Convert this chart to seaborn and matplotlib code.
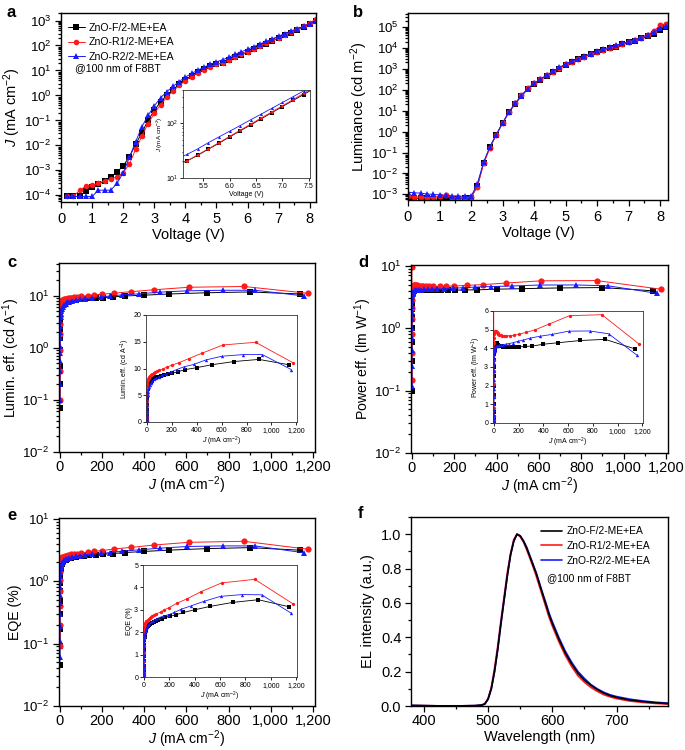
import numpy as np
import seaborn as sns
import matplotlib
matplotlib.use("Agg")
import matplotlib.pyplot as plt
from matplotlib.ticker import MultipleLocator, FuncFormatter, LogLocator, NullFormatter

sns.set_theme(style="ticks")
plt.rcParams['font.family'] = ['Liberation Sans', 'DejaVu Sans']
plt.rcParams['mathtext.fontset'] = 'custom'
plt.rcParams['mathtext.rm'] = 'Liberation Sans'
plt.rcParams['mathtext.it'] = 'Liberation Sans:italic'
plt.rcParams['mathtext.bf'] = 'Liberation Sans:bold'
for k in ['text.color', 'axes.labelcolor', 'xtick.color', 'ytick.color', 'axes.edgecolor']:
    plt.rcParams[k] = 'black'

labels = ['ZnO-F/2-ME+EA', 'ZnO-R1/2-ME+EA', 'ZnO-R2/2-ME+EA']
colors = ['#000000', '#ff1a1a', '#1a1aff']
markers = ['s', 'o', '^']

# ---- a: J-V ----
volt_a = [0.2, 0.4, 0.6, 0.8, 1.0, 1.2, 1.4, 1.6, 1.8, 2.0,
          2.2, 2.4, 2.6, 2.8, 3.0, 3.2, 3.4, 3.6, 3.8, 4.0,
          4.2, 4.4, 4.6, 4.8, 5.0, 5.2, 5.4, 5.6, 5.8, 6.0,
          6.2, 6.4, 6.6, 6.8, 7.0, 7.2, 7.4, 7.6, 7.8, 8.0, 8.2]
jv_f = [9e-5, 9e-5, 9e-5, 1.5e-4, 2.2e-4, 2.8e-4, 3.8e-4, 5.5e-4, 8.5e-4, 1.5e-3,
        3.5e-3, 1.1e-2, 3.2e-2, 0.1, 0.25, 0.55, 1.0, 1.7, 2.8, 4.3,
        6.2, 8.5, 11.2, 14.5, 17.5, 20.5, 26, 33.5, 43, 56,
        72, 93, 120, 155, 200, 258, 330, 430, 560, 720, 930]
jv_r1 = [9e-5, 9e-5, 1.6e-4, 2.3e-4, 2.5e-4, 3e-4, 3.8e-4, 4.5e-4, 5.5e-4, 8e-4,
         1.8e-3, 7e-3, 2.3e-2, 0.075, 0.19, 0.42, 0.85, 1.5, 2.5, 3.9,
         5.7, 8.0, 10.8, 14.0, 17.5, 20.5, 26.5, 34, 44, 57,
         74, 96, 124, 160, 207, 268, 348, 450, 600, 800, 1150]
jv_r2 = [9e-5, 9e-5, 9e-5, 9e-5, 9e-5, 1.6e-4, 1.6e-4, 1.6e-4, 3e-4, 8e-4,
         3.3e-3, 1.4e-2, 5.5e-2, 0.16, 0.38, 0.8, 1.4, 2.3, 3.6, 5.4,
         7.6, 10.3, 13.5, 17.5, 22, 27, 34, 44, 56, 71,
         90, 115, 146, 186, 237, 302, 385, 470, 580, 750, 1000]

# ---- b: L-V ----
volt_b = [0.0, 0.2, 0.4, 0.6, 0.8, 1.0, 1.2, 1.4, 1.6, 1.8,
          2.0, 2.2, 2.4, 2.6, 2.8, 3.0, 3.2, 3.4, 3.6, 3.8,
          4.0, 4.2, 4.4, 4.6, 4.8, 5.0, 5.2, 5.4, 5.6, 5.8,
          6.0, 6.2, 6.4, 6.6, 6.8, 7.0, 7.2, 7.4, 7.6, 7.8, 8.0, 8.2]
lum_f = [7e-4, 6.5e-4, 6.5e-4, 6.5e-4, 6e-4, 6e-4, 6e-4, 6e-4, 6e-4, 6.5e-4,
         7e-4, 2.5e-3, 3.2e-2, 0.18, 0.7, 2.5, 8.3, 21, 50, 108,
         195, 300, 470, 700, 1000, 1550, 2100, 2800, 3700, 4900,
         6300, 7800, 9500, 11500, 14500, 18000, 22000, 28000, 36000, 48000, 70000, 95000]
lum_r1 = [8e-4, 7.5e-4, 7.5e-4, 7e-4, 7.5e-4, 8e-4, 9e-4, 7e-4, 7e-4, 7e-4,
          7.5e-4, 2.2e-3, 3e-2, 0.17, 0.7, 2.5, 8.2, 22, 55, 115,
          200, 310, 480, 720, 1050, 1600, 2200, 2900, 3800, 5000,
          6500, 8000, 9800, 12000, 15000, 19000, 24000, 31000, 42000, 62000, 120000, 135000]
lum_r2 = [1.25e-3, 1.2e-3, 1.15e-3, 1.05e-3, 1.0e-3, 9.5e-4, 9e-4, 8.5e-4, 8.5e-4, 8e-4,
          8e-4, 3.2e-3, 3.5e-2, 0.19, 0.72, 2.6, 8.5, 22, 52, 110,
          200, 320, 500, 760, 1150, 1700, 2250, 3000, 3970, 5270,
          7000, 8640, 10660, 13160, 16240, 20000, 24500, 31000, 41000, 58000, 85000, 110000]

# ---- c, d, e: efficiencies vs J ----
j_f = [0.004, 0.015, 0.05, 0.13, 0.3, 0.6, 1.1, 1.9, 3, 4.5,
       6.5, 9, 12, 16, 21, 27, 34, 42, 52, 64,
       78, 95, 115, 140, 170, 205, 250, 310, 400, 520, 700, 900, 1140]
le_f = [0.07, 0.2, 0.45, 0.9, 1.5, 2.3, 3.2, 4.1, 4.9, 5.6,
        6.2, 6.6, 6.9, 7.1, 7.25, 7.4, 7.55, 7.75, 7.95, 8.15,
        8.35, 8.5, 8.65, 8.8, 8.95, 9.1, 9.4, 9.8, 10.15, 10.7, 11.3, 11.7, 10.7]
pe_f = [0.1, 0.3, 0.6, 1.0, 1.5, 2.0, 2.5, 3.0, 3.4, 3.7,
        3.9, 4.0, 4.1, 4.2, 4.25, 4.3, 4.2, 4.15, 4.12, 4.1,
        4.08, 4.07, 4.07, 4.07, 4.08, 4.08, 4.1, 4.12, 4.22, 4.3, 4.42, 4.48, 3.97]
eqe_f = [0.045, 0.09, 0.17, 0.3, 0.48, 0.7, 0.95, 1.2, 1.45, 1.65,
         1.8, 1.92, 2.02, 2.1, 2.17, 2.22, 2.27, 2.32, 2.37, 2.42,
         2.47, 2.52, 2.56, 2.61, 2.66, 2.71, 2.77, 2.88, 3.0, 3.15, 3.33, 3.45, 3.14]

j_r1 = [0.001, 0.003, 0.01, 0.035, 0.1, 0.25, 0.5, 0.9, 1.6, 2.6,
        4, 6, 8.5, 12, 16, 20, 25, 31, 38, 46,
        55, 66, 80, 100, 132, 160, 200, 259, 337, 447, 612, 873, 1175]
le_r1 = [5.0, 0.1, 0.35, 0.9, 1.8, 2.9, 4.0, 5.0, 5.9, 6.6,
         7.1, 7.5, 7.8, 8.05, 8.25, 8.4, 8.55, 8.7, 8.85, 9.0,
         9.15, 9.3, 9.45, 9.65, 9.95, 10.25, 10.6, 11.1, 11.85, 12.9, 14.4, 14.9, 11.05]
pe_r1 = [9.5, 0.15, 0.4, 0.8, 1.4, 2.1, 2.8, 3.4, 3.9, 4.3,
         4.55, 4.75, 4.88, 4.95, 4.95, 4.9, 4.85, 4.8, 4.75, 4.72,
         4.7, 4.68, 4.67, 4.67, 4.68, 4.7, 4.75, 4.85, 5.0, 5.3, 5.75, 5.8, 4.22]
eqe_r1 = [1.8, 0.09, 0.2, 0.4, 0.7, 1.05, 1.4, 1.7, 1.95, 2.12,
          2.25, 2.33, 2.38, 2.42, 2.45, 2.48, 2.52, 2.56, 2.6, 2.64,
          2.68, 2.72, 2.76, 2.82, 2.9, 3.0, 3.1, 3.29, 3.48, 3.8, 4.2, 4.36, 3.26]

j_r2 = [0.008, 0.02, 0.05, 0.1, 0.2, 0.35, 0.6, 1.0, 1.6, 2.4,
        3.5, 5, 7, 10, 14, 20, 27, 35, 45, 58,
        75, 95, 120, 154, 194, 240, 296, 375, 474, 604, 774, 927, 1159]
le_r2 = [0.1, 0.2, 0.35, 0.55, 0.8, 1.1, 1.5, 2.0, 2.6, 3.2,
         3.8, 4.4, 5.0, 5.6, 6.1, 6.6, 7.0, 7.35, 7.65, 7.95,
         8.2, 8.45, 8.7, 9.0, 9.35, 9.8, 10.3, 10.75, 11.6, 12.3, 12.6, 12.6, 9.8]
pe_r2 = [0.12, 0.25, 0.45, 0.7, 1.0, 1.4, 1.8, 2.3, 2.8, 3.2,
         3.5, 3.7, 3.85, 3.95, 4.05, 4.1, 4.12, 4.15, 4.17, 4.18,
         4.2, 4.22, 4.25, 4.3, 4.37, 4.45, 4.55, 4.65, 4.75, 4.92, 4.93, 4.78, 3.62]
eqe_r2 = [0.06, 0.11, 0.19, 0.3, 0.44, 0.6, 0.8, 1.0, 1.2, 1.38,
          1.55, 1.7, 1.83, 1.95, 2.05, 2.15, 2.23, 2.3, 2.37, 2.44,
          2.51, 2.58, 2.65, 2.72, 2.78, 2.88, 3.03, 3.18, 3.38, 3.6, 3.68, 3.67, 2.85]

# ---- f: EL spectra ----
wl = [380, 400, 420, 440, 460, 480, 490, 495, 500, 505, 510, 515, 520, 525, 530, 535, 540, 545,
      550, 555, 560, 565, 570, 575, 580, 585, 590, 595, 600, 610, 620, 630, 640, 650, 660, 670,
      680, 690, 700, 720, 740, 760, 780]
el_f = [0.003, 0.002, 0.001, 0.001, 0.001, 0.002, 0.005, 0.012, 0.04, 0.1, 0.2, 0.33, 0.48, 0.62,
        0.76, 0.88, 0.96, 1.0, 0.99, 0.96, 0.92, 0.87, 0.82, 0.77, 0.71, 0.65, 0.59, 0.53, 0.48,
        0.39, 0.31, 0.245, 0.19, 0.15, 0.12, 0.095, 0.075, 0.06, 0.05, 0.035, 0.026, 0.019, 0.014]
el_r1 = [0.003, 0.002, 0.001, 0.001, 0.001, 0.002, 0.006, 0.014, 0.045, 0.11, 0.22, 0.35, 0.5, 0.64,
         0.78, 0.89, 0.97, 1.0, 0.985, 0.955, 0.91, 0.86, 0.81, 0.755, 0.695, 0.635, 0.575, 0.515, 0.465,
         0.375, 0.295, 0.23, 0.175, 0.138, 0.108, 0.085, 0.066, 0.053, 0.043, 0.029, 0.021, 0.015, 0.011]
el_r2 = [0.003, 0.002, 0.001, 0.001, 0.001, 0.002, 0.005, 0.012, 0.04, 0.1, 0.2, 0.33, 0.48, 0.62,
         0.76, 0.88, 0.96, 1.0, 0.99, 0.962, 0.925, 0.875, 0.825, 0.775, 0.715, 0.655, 0.6, 0.54, 0.49,
         0.4, 0.32, 0.255, 0.2, 0.16, 0.125, 0.1, 0.08, 0.065, 0.055, 0.04, 0.03, 0.022, 0.017]

W, H = 685, 750
fig = plt.figure(figsize=(W / 100, H / 100), dpi=100)


def px_rect(l, t, r, b):
    return [l / W, 1 - b / H, (r - l) / W, (b - t) / H]


def make_ax(l, t, r, b, small=False):
    ax = fig.add_axes(px_rect(l, t, r, b))
    ax.set_facecolor('white')
    for s in ax.spines.values():
        s.set_linewidth(0.6 if small else 1.0)
        s.set_color('#333333' if small else 'black')
    ax.tick_params(which='both', direction='out', width=0.6 if small else 0.9,
                   pad=1.5 if small else 3)
    ax.tick_params(axis='x', labelsize=5 if small else 10.5)
    ax.tick_params(axis='y', labelsize=5 if small else 9.5)
    ax.tick_params(which='major', length=2 if small else 4)
    ax.tick_params(which='minor', length=1 if small else 2)
    return ax


def draw(ax, xs, ys, ms, lw=0.7):
    for x, y, c, m, lab in zip(xs, ys, colors, markers, labels):
        sns.lineplot(x=x, y=y, ax=ax, color=c, marker=m, markersize=ms,
                     markeredgewidth=0, linewidth=lw, label=lab, legend=False)


def log_y(ax, lo, hi):
    ax.set_yscale('log')
    ax.set_ylim(lo, hi)
    ax.yaxis.set_major_locator(LogLocator(base=10, numticks=30))
    ax.yaxis.set_minor_locator(LogLocator(base=10, subs=np.arange(2, 10), numticks=30))
    ax.yaxis.set_minor_formatter(NullFormatter())


comma = FuncFormatter(lambda v, p: f"{int(v):,}")
jlabel = '$J$ (mA cm$^{-2}$)'

# panel a
ax = make_ax(61, 13, 316, 202)
draw(ax, [volt_a] * 3, [jv_f, jv_r1, jv_r2], 4)
log_y(ax, 5.4e-5, 2000)
ax.set_xlim(0, 8.2)
ax.xaxis.set_major_locator(MultipleLocator(1))
ax.xaxis.set_minor_locator(MultipleLocator(0.5))
ax.set_xlabel('Voltage (V)', fontsize=10.5, labelpad=2)
ax.set_ylabel(jlabel, fontsize=10.5, labelpad=1)
ax.legend(loc='upper left', bbox_to_anchor=(-0.01, 1.0), frameon=False, fontsize=7.6,
          handlelength=1.6, handletextpad=0.4, labelspacing=0.45)
ax.text(0.055, 0.69, '@100 nm of F8BT', transform=ax.transAxes, fontsize=7.6)
ins = make_ax(183, 90, 310, 178, small=True)
draw(ins, [volt_a] * 3, [jv_f, jv_r1, jv_r2], 2.2, lw=0.6)
log_y(ins, 10, 400)
ins.set_xlim(5.12, 7.52)
ins.xaxis.set_major_locator(MultipleLocator(0.5))
ins.xaxis.set_major_formatter(FuncFormatter(lambda v, p: f"{v:.1f}"))
ins.set_xlabel('Voltage (V)', fontsize=5, labelpad=0.5)
ins.set_ylabel(jlabel, fontsize=4.5, labelpad=0.5)

# panel b
ax = make_ax(408, 13, 668, 200)
draw(ax, [volt_b] * 3, [lum_f, lum_r1, lum_r2], 4.3)
log_y(ax, 5.4e-4, 4.6e5)
ax.set_xlim(0, 8.25)
ax.xaxis.set_major_locator(MultipleLocator(1))
ax.xaxis.set_minor_locator(MultipleLocator(0.5))
ax.set_xlabel('Voltage (V)', fontsize=10.5, labelpad=2)
ax.set_ylabel('Luminance (cd m$^{-2}$)', fontsize=10.5, labelpad=1)

# panels c, d, e
eff_specs = [
    ((59, 263, 315, 452), (146, 315, 297, 422), [le_f, le_r1, le_r2], (0.01, 42), (0, 20), 5,
     'Lumin. eff. (cd A$^{-1}$)'),
    ((411, 265, 668, 453), (493, 311, 643, 423), [pe_f, pe_r1, pe_r2], (0.01, 10.3), (0, 6), 1,
     'Power eff. (lm W$^{-1}$)'),
    ((59, 518, 315, 706), (143, 565, 297, 677), [eqe_f, eqe_r1, eqe_r2], (0.01, 10.3), (0, 5), 1,
     'EQE (%)'),
]
for main_px, ins_px, vals, ylog, ylin, ystep, ylab in eff_specs:
    ax = make_ax(*main_px)
    draw(ax, [j_f, j_r1, j_r2], vals, 4.5)
    log_y(ax, *ylog)
    ax.set_xlim(-4, 1210)
    ax.xaxis.set_major_locator(MultipleLocator(200))
    ax.xaxis.set_minor_locator(MultipleLocator(100))
    ax.xaxis.set_major_formatter(comma)
    ax.tick_params(axis='x', pad=2)
    ax.set_xlabel(jlabel, fontsize=10.2, labelpad=0)
    ax.set_ylabel(ylab, fontsize=10.2, labelpad=0.5)
    ins = make_ax(*ins_px, small=True)
    draw(ins, [j_f, j_r1, j_r2], vals, 2.4, lw=0.6)
    ins.set_xlim(-6, 1205)
    ins.set_ylim(*ylin)
    ins.xaxis.set_major_locator(MultipleLocator(200))
    ins.xaxis.set_major_formatter(comma)
    ins.yaxis.set_major_locator(MultipleLocator(ystep))
    ins.set_xlabel(jlabel, fontsize=5, labelpad=0.5)
    ins.set_ylabel(ylab, fontsize=5, labelpad=1)

# panel f
ax = make_ax(411, 517, 668, 706)
for y, c, lab, z in zip([el_f, el_r1, el_r2], colors, labels, [4, 2, 3]):
    sns.lineplot(x=wl, y=y, ax=ax, color=c, linewidth=1.2, label=lab, legend=False, zorder=z)
ax.set_xlim(380, 780)
ax.set_ylim(0, 1.1)
ax.xaxis.set_major_locator(MultipleLocator(100))
ax.xaxis.set_minor_locator(MultipleLocator(50))
ax.yaxis.set_major_locator(MultipleLocator(0.2))
ax.yaxis.set_minor_locator(MultipleLocator(0.1))
ax.yaxis.set_major_formatter(FuncFormatter(lambda v, p: f"{v:.1f}"))
ax.tick_params(axis='y', labelsize=10.5)
ax.tick_params(axis='x', pad=2)
ax.set_xlabel('Wavelength (nm)', fontsize=10.5, labelpad=1)
ax.set_ylabel('EL intensity (a.u.)', fontsize=10.5, labelpad=4)
ax.legend(loc='upper left', bbox_to_anchor=(0.47, 1.0), frameon=False, fontsize=7.4,
          handlelength=2.0, handletextpad=0.5, labelspacing=0.45)
ax.text(0.53, 0.66, '@100 nm of F8BT', transform=ax.transAxes, fontsize=7.4)

# panel letters
for letter, x, y in [('a', 6, 17), ('b', 353, 17), ('c', 7, 267),
                     ('d', 358, 267), ('e', 7, 520), ('f', 358, 518)]:
    fig.text(x / W, 1 - y / H, letter, fontsize=12, fontweight='bold', va='baseline')

fig.savefig('out.png', dpi=100)
